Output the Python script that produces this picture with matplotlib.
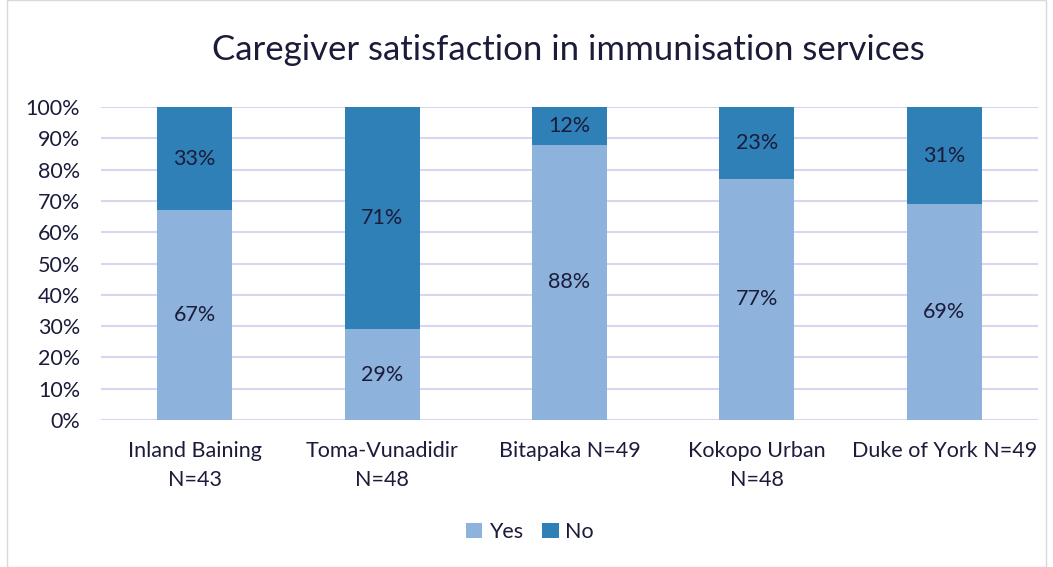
import numpy as np
import matplotlib.pyplot as plt
from matplotlib.patches import Rectangle

categories = ["Inland Baining\nN=43", "Toma-Vunadidir\nN=48", "Bitapaka N=49",
              "Kokopo Urban\nN=48", "Duke of York N=49"]
yes_vals = [67, 29, 88, 77, 69]
no_vals = [33, 71, 12, 23, 31]

plt.rcParams['font.family'] = ['Lato', 'DejaVu Sans']
text_col = "#1b1b3a"
yes_col = "#8db2db"
no_col = "#2e80b7"

fig = plt.figure(figsize=(10.53, 5.67), dpi=100)
ax = fig.add_axes([101 / 1053, 1 - 420 / 567, 937 / 1053, 313 / 567])

x = np.arange(len(categories))
ax.bar(x, yes_vals, width=0.4, color=yes_col, label="Yes", zorder=3)
ax.bar(x, no_vals, width=0.4, bottom=yes_vals, color=no_col, label="No", zorder=3)

for i in range(len(x)):
    ax.text(x[i], yes_vals[i] / 2, f"{yes_vals[i]}%", ha="center", va="center",
            fontsize=15.5, color=text_col, zorder=4)
    ax.text(x[i], yes_vals[i] + no_vals[i] / 2, f"{no_vals[i]}%", ha="center", va="center",
            fontsize=15.5, color=text_col, zorder=4)

ax.set_xlim(-0.5, len(x) - 0.5)
ax.set_ylim(0, 100)
ax.set_yticks(np.arange(0, 101, 10))
ax.set_yticklabels([f"{v}%" for v in range(0, 101, 10)])
ax.set_xticks(x)
ax.set_xticklabels(categories, linespacing=1.55)
ax.tick_params(axis="both", length=0, labelsize=15.5, colors=text_col)
ax.tick_params(axis="x", pad=15)
ax.tick_params(axis="y", pad=15)
ax.grid(axis="y", color="#d9d5f0", linewidth=1.5, zorder=0)
for s in ax.spines.values():
    s.set_visible(False)

fig.suptitle("Caregiver satisfaction in immunisation services", x=568 / 1053, y=0.94,
             fontsize=25, color=text_col)

fig.legend(loc="center", bbox_to_anchor=(530 / 1053, 1 - 532 / 567), ncol=2,
           frameon=False, fontsize=15.5, labelcolor=text_col, handlelength=0.75,
           handleheight=0.75, handletextpad=0.3, columnspacing=0.9)

fig.patches.append(Rectangle((7 / 1053, 0), 1 - 14 / 1053, 1, transform=fig.transFigure,
                             fill=False, edgecolor="#d9d9d9", linewidth=1))

fig.savefig("out.png", dpi=100)
